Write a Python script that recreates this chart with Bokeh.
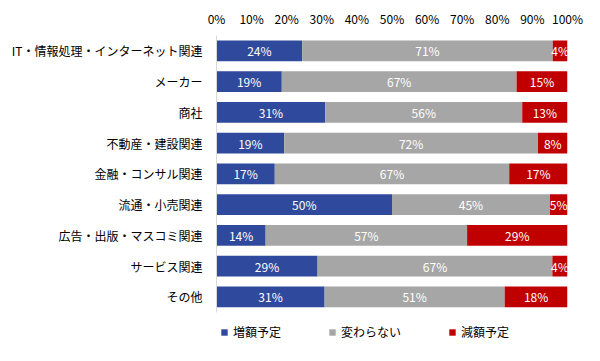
from bokeh.plotting import figure
from bokeh.models import ColumnDataSource, Range1d, FixedTicker, Legend, LegendItem
from bokeh.core.properties import value
from bokeh.embed import file_html
from bokeh.resources import INLINE

categories = ["IT・情報処理・インターネット関連", "メーカー", "商社", "不動産・建設関連",
              "金融・コンサル関連", "流通・小売関連", "広告・出版・マスコミ関連", "サービス関連", "その他"]
increase = [24.4, 18.6, 31.0, 19.3, 16.6, 50.0, 14.0, 28.8, 30.8]
same = [71.4, 66.9, 56.1, 72.3, 66.8, 45.0, 57.4, 66.9, 51.3]
decrease = [4.2, 14.5, 12.9, 8.4, 16.6, 5.0, 28.6, 4.3, 17.9]
increase_labels = ["24%", "19%", "31%", "19%", "17%", "50%", "14%", "29%", "31%"]
same_labels = ["71%", "67%", "56%", "72%", "67%", "45%", "57%", "67%", "51%"]
decrease_labels = ["4%", "15%", "13%", "8%", "17%", "5%", "29%", "4%", "18%"]
series_names = ["増額予定", "変わらない", "減額予定"]
tick_values = [0, 10, 20, 30, 40, 50, 60, 70, 80, 90, 100]
tick_labels = ["0%", "10%", "20%", "30%", "40%", "50%", "60%", "70%", "80%", "90%", "100%"]

colors = ["#2F4A9C", "#A6A6A6", "#C00000"]
FONT = "Noto Sans CJK JP"

n = len(categories)
ypos = [n - 1 - i for i in range(n)]  # first category on top

W, H = 598, 358
p = figure(width=W, height=H, output_backend="svg", toolbar_location=None,
           x_range=Range1d(0, 100), y_range=Range1d(-1.58, n - 0.5),
           x_axis_location="above",
           min_border_left=216, min_border_right=31, min_border_top=35, min_border_bottom=13)
p.outline_line_color = None
p.xgrid.visible = False
p.ygrid.visible = False
p.background_fill_color = "white"
p.border_fill_color = "white"

a_end = list(increase)
b_end = [a + b for a, b in zip(increase, same)]
c_end = [a + b + c for a, b, c in zip(increase, same, decrease)]
src = ColumnDataSource(dict(
    y=ypos, s0=[0] * n, e0=a_end, s1=a_end, e1=b_end, s2=b_end, e2=c_end,
    m0=[e / 2 for e in a_end],
    m1=[(s + e) / 2 for s, e in zip(a_end, b_end)],
    m2=[(s + e) / 2 for s, e in zip(b_end, c_end)],
    l0=increase_labels, l1=same_labels, l2=decrease_labels,
))

renderers = []
for i in range(3):
    r = p.hbar(y="y", left=f"s{i}", right=f"e{i}", height=0.68, source=src,
               fill_color=colors[i], line_color=None)
    renderers.append(r)
    p.text(x=f"m{i}", y="y", text=f"l{i}", source=src, text_color="white",
           text_font=value(FONT), text_font_size="12px", text_align="center",
           text_baseline="middle")

xa = p.xaxis[0]
xa.ticker = FixedTicker(ticks=tick_values)
xa.major_label_overrides = {v: l for v, l in zip(tick_values, tick_labels)}
xa.axis_line_color = None
xa.major_tick_line_color = None
xa.minor_tick_line_color = None
xa.major_tick_out = 0
xa.major_tick_in = 0
xa.major_label_standoff = 9
xa.major_label_text_font = FONT
xa.major_label_text_font_size = "12px"
xa.major_label_text_color = "black"

ya = p.yaxis[0]
ya.ticker = FixedTicker(ticks=ypos)
ya.major_label_overrides = {y: c for y, c in zip(ypos, categories)}
ya.bounds = (-0.5, n - 0.5)
ya.axis_line_color = "#D9D9D9"
ya.major_tick_line_color = None
ya.minor_tick_line_color = None
ya.major_tick_out = 0
ya.major_tick_in = 0
ya.major_label_standoff = 14
ya.major_label_text_font = FONT
ya.major_label_text_font_size = "12px"
ya.major_label_text_color = "black"

legend = Legend(items=[LegendItem(label=s, renderers=[r]) for s, r in zip(series_names, renderers)],
                orientation="horizontal", location=(4, 5), padding=0, margin=0,
                glyph_width=8, glyph_height=8, label_standoff=5, spacing=47,
                label_height=14, label_text_font=FONT, label_text_font_size="12px",
                label_text_color="black", border_line_color=None, background_fill_alpha=0)
p.add_layout(legend)

open("out.html", "w").write(file_html(p, INLINE))
